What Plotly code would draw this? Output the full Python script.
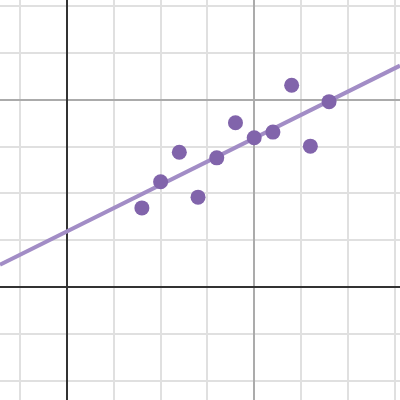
import numpy as np
import plotly.graph_objects as go

# data points
x_vals = [1.6, 2.0, 2.4, 2.8, 3.2, 3.6, 4.0, 4.4, 4.8, 5.2, 5.6]
y_vals = [1.69, 2.25, 2.88, 1.92, 2.76, 3.51, 3.19, 3.31, 4.31, 3.01, 3.96]

x_range = [-1.4316, 7.1154]
y_range = [-2.4145, 6.1325]

# least-squares regression line through the points
slope, intercept = np.polyfit(x_vals, y_vals, 1)
line_x = np.array(x_range)
line_y = slope * line_x + intercept

fig = go.Figure()
fig.add_trace(go.Scatter(x=line_x, y=line_y, mode="lines",
                         line=dict(color="#a28dc6", width=4),
                         hoverinfo="skip", showlegend=False))
fig.add_trace(go.Scatter(x=x_vals, y=y_vals, mode="markers",
                         marker=dict(color="#8164ab", size=15, line=dict(width=0)),
                         showlegend=False))

axis_common = dict(
    showticklabels=False, ticks="", tick0=0, dtick=4,
    showgrid=True, gridcolor="#ababab", gridwidth=2,
    zeroline=True, zerolinecolor="#333333", zerolinewidth=2,
    showline=False, fixedrange=True,
    minor=dict(dtick=1, tick0=0, showgrid=True, gridcolor="#e0e0e0", gridwidth=2),
)

fig.update_layout(
    width=400, height=400,
    margin=dict(l=0, r=0, t=0, b=0),
    paper_bgcolor="white", plot_bgcolor="white",
    xaxis=dict(range=x_range, **axis_common),
    yaxis=dict(range=y_range, **axis_common),
    showlegend=False,
)

fig.write_html("out.html", config={"displayModeBar": False},
               post_script="document.body.style.margin='0';document.body.style.overflow='hidden';")
